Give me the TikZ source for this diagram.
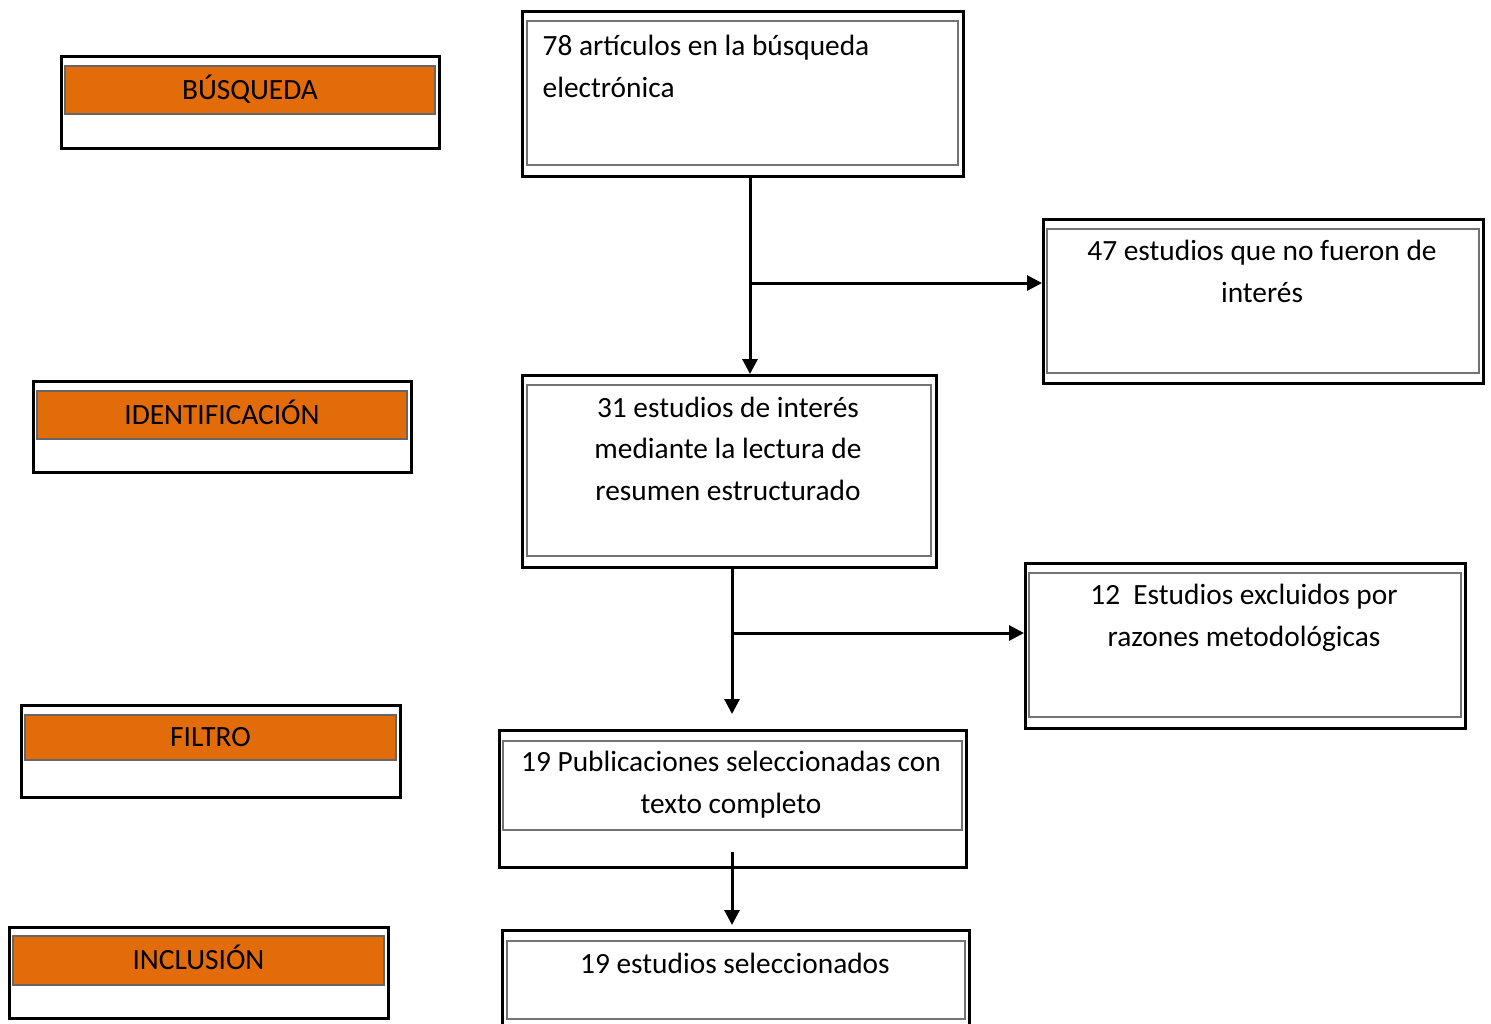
\documentclass[tikz,border=0pt]{standalone}
\usepackage{fontspec}
\setmainfont{Carlito}
\usetikzlibrary{arrows.meta}
\definecolor{naranja}{RGB}{227,108,10}

\begin{document}
\begin{tikzpicture}[x=0.01cm,y=-0.01cm,
    every node/.style={font=\fontsize{8.35}{11.8}\selectfont},
    marco/.style={draw,line width=0.75pt,inner sep=0pt,anchor=north west},
    interior/.style={draw=black!55,line width=0.5pt,inner sep=0pt,anchor=north west},
    etapa/.style={draw=black!60,line width=0.5pt,fill=naranja,inner sep=0pt,anchor=north west,
      text height=5.3pt,text depth=0pt},
    texto/.style={anchor=base,align=center,inner sep=0pt},
    flecha/.style={-{Triangle[length=1.5mm,width=1.5mm]},line width=0.85pt}]
  \useasboundingbox (0,0) rectangle (1491,1023);

  % etapas
  \node[marco,minimum width=3.78cm,minimum height=0.92cm] (busq) at (60,55) {};
  \node[etapa,minimum width=3.70cm,minimum height=0.48cm] (busqn) at (64,65) {BÚSQUEDA};
  \node[marco,minimum width=3.78cm,minimum height=0.91cm] (iden) at (32,380) {};
  \node[etapa,minimum width=3.70cm,minimum height=0.48cm] (idenn) at (36,390) {IDENTIFICACIÓN};
  \node[marco,minimum width=3.79cm,minimum height=0.92cm] (filt) at (20,704) {};
  \node[etapa,minimum width=3.71cm,minimum height=0.45cm] (filtn) at (24,714) {FILTRO};
  \node[marco,minimum width=3.79cm,minimum height=0.91cm] (incl) at (8,926) {};
  \node[etapa,minimum width=3.71cm,minimum height=0.49cm] (incln) at (12,935) {INCLUSIÓN};

  % cajas del flujo (texto: base de la ultima linea)
  \node[marco,minimum width=4.41cm,minimum height=1.65cm] (aout) at (521,10) {};
  \node[interior,minimum width=4.31cm,minimum height=1.44cm] (a) at (526,20) {};
  \node[texto,anchor=base west,align=left] (ta) at (542,97) {78 artículos en la búsqueda\\electrónica};

  \node[marco,minimum width=4.40cm,minimum height=1.64cm] (bout) at (1042,218) {};
  \node[interior,minimum width=4.32cm,minimum height=1.44cm] (b) at (1046,228) {};
  \node[texto] (tb) at (1262,302) {47 estudios que no fueron de\\interés};

  \node[marco,minimum width=4.14cm,minimum height=1.92cm] (cout) at (521,374) {};
  \node[interior,minimum width=4.04cm,minimum height=1.71cm] (c) at (526,384) {};
  \node[texto] (tc) at (728,500) {31 estudios de interés\\mediante la lectura de\\resumen estructurado};

  \node[marco,minimum width=4.40cm,minimum height=1.65cm] (dout) at (1024,562) {};
  \node[interior,minimum width=4.32cm,minimum height=1.44cm] (d) at (1028,572) {};
  \node[texto] (td) at (1244,646) {12\ \ Estudios excluidos por\\razones metodológicas};

  \node[marco,minimum width=4.67cm,minimum height=1.37cm] (eout) at (498,729) {};
  \node[interior,minimum width=4.59cm,minimum height=0.89cm] (e) at (502,740) {};
  \node[texto] (te) at (731,813) {19 Publicaciones seleccionadas con\\texto completo};

  \node[marco,minimum width=4.67cm,minimum height=1.20cm] (fout) at (501,929) {};
  \node[interior,minimum width=4.58cm,minimum height=0.78cm] (f) at (506,940) {};
  \node[texto] (tf) at (735,973) {19 estudios seleccionados};

  % flechas
  \coordinate (ramaA) at (750,283);
  \draw[flecha] (ramaA |- aout.south) -- (ramaA |- cout.north);
  \draw[flecha] (ramaA) -- (ramaA -| bout.west);

  \coordinate (ramaC) at (732,633);
  \coordinate (finC) at (732,714);
  \draw[flecha] (ramaC |- cout.south) -- (finC);
  \draw[flecha] (ramaC) -- (ramaC -| dout.west);

  \coordinate (iniE) at (732,852);
  \coordinate (finE) at (732,925);
  \draw[flecha] (iniE) -- (finE);
\end{tikzpicture}
\end{document}
